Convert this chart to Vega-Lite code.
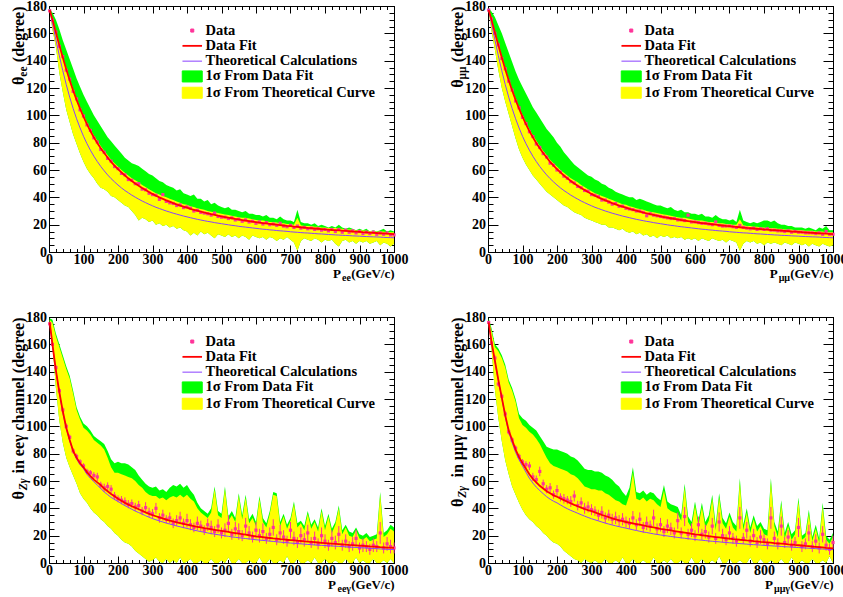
{
"$schema":"https://vega.github.io/schema/vega-lite/v6.json",
"autosize":{"type":"none"},
"padding":{"left":49,"top":6,"right":794,"bottom":591},
"background":"white",
"config":{
 "view":{"stroke":"#000000","strokeWidth":1},
 "axis":{"labelFont":"Liberation Serif","labelFontWeight":"bold","labelColor":"#000000","labelFontSize":14,"titleFont":"Liberation Serif","titleFontWeight":"bold","titleColor":"#000000","tickColor":"#000000","tickWidth":1,"grid":false,"domain":false,"titlePadding":0,"format":"d"},
 "legend":{"labelFont":"Liberation Serif","labelFontWeight":"bold","labelFontSize":14.5,"labelColor":"#000000"}
},
"columns":2,
"spacing":{"row":65,"column":94},
"bounds":"flush",
"resolve":{"scale":{"color":"independent"}},
"datasets":{
"A":[
{"p":2,"f":177,"t":177.7,"g":178.5,"u":178,"l":176.5,"d":176.5},
{"p":10,"f":170.2,"t":167.5,"g":175,"u":171.5,"l":163,"d":169.5},
{"p":20,"f":160.6,"t":155.3,"g":170,"u":162,"l":150,"d":161},
{"p":30,"f":151.2,"t":143.6,"g":163,"u":152.5,"l":131,"d":150.5},
{"p":40,"f":142.3,"t":132.6,"g":155,"u":143.5,"l":117,"d":143},
{"p":50,"f":133.7,"t":122.5,"g":148,"u":135,"l":104,"d":133},
{"p":60,"f":125.7,"t":113.3,"g":141,"u":127,"l":95,"d":126.5},
{"p":70,"f":118.2,"t":105,"g":134,"u":119.5,"l":86,"d":117.5},
{"p":80,"f":111.3,"t":97.5,"g":127,"u":112.5,"l":79,"d":112},
{"p":90,"f":104.9,"t":90.8,"g":121,"u":106,"l":72,"d":104},
{"p":100,"f":99,"t":84.7,"g":115,"u":100.5,"l":66,"d":99.5},
{"p":110,"f":93.5,"t":79.3,"g":110,"u":95,"l":61,"d":93},
{"p":120,"f":88.5,"t":74.5,"g":105,"u":90,"l":57,"d":89},
{"p":130,"f":84,"t":70.1,"g":100,"u":85.5,"l":54,"d":83.5},
{"p":140,"f":79.8,"t":66.2,"g":96,"u":81.5,"l":50,"d":80.5},
{"p":150,"f":75.9,"t":62.6,"g":92,"u":77.5,"l":47,"d":75},
{"p":160,"f":72.4,"t":59.4,"g":88,"u":74,"l":46,"d":73},
{"p":170,"f":69.1,"t":56.4,"g":84,"u":71,"l":44,"d":68.5},
{"p":180,"f":66,"t":53.7,"g":81,"u":67.5,"l":41,"d":66.5},
{"p":190,"f":63.2,"t":51.3,"g":78,"u":65,"l":40,"d":62.5},
{"p":200,"f":60.7,"t":49,"g":75,"u":62.5,"l":38,"d":61},
{"p":210,"f":58.2,"t":46.9,"g":72,"u":60,"l":36,"d":57.5},
{"p":220,"f":56,"t":45,"g":69,"u":58,"l":34,"d":56.5},
{"p":230,"f":53.9,"t":43.3,"g":67,"u":56,"l":33,"d":53},
{"p":240,"f":52,"t":41.6,"g":65,"u":54,"l":30,"d":52.5},
{"p":250,"f":50.2,"t":40.1,"g":64,"u":52.5,"l":27,"d":50},
{"p":260,"f":48.5,"t":38.7,"g":63,"u":51,"l":23,"d":50},
{"p":270,"f":46.9,"t":37.3,"g":61,"u":49,"l":25,"d":46},
{"p":280,"f":45.4,"t":36.1,"g":59,"u":47.5,"l":24,"d":45.5},
{"p":290,"f":43.9,"t":34.9,"g":57,"u":46,"l":22,"d":43},
{"p":300,"f":42.5,"t":33.8,"g":56,"u":44.5,"l":23,"d":42},
{"p":310,"f":41.2,"t":32.7,"g":54,"u":43,"l":20,"d":41.5},
{"p":320,"f":40,"t":31.8,"g":52,"u":42,"l":21,"d":38.5},
{"p":330,"f":38.9,"t":30.9,"g":51,"u":41,"l":19,"d":42},
{"p":340,"f":37.8,"t":30,"g":49,"u":40,"l":20,"d":37},
{"p":350,"f":36.8,"t":29.2,"g":48,"u":39,"l":18,"d":36},
{"p":360,"f":35.8,"t":28.4,"g":47,"u":38,"l":19,"d":35.5},
{"p":370,"f":34.9,"t":27.7,"g":45,"u":37,"l":17,"d":34},
{"p":380,"f":34,"t":27,"g":46,"u":36,"l":18,"d":34.5},
{"p":390,"f":33.2,"t":26.3,"g":43,"u":35,"l":16,"d":32.5},
{"p":400,"f":32.4,"t":25.7,"g":42,"u":34.5,"l":15,"d":33},
{"p":410,"f":31.6,"t":25.1,"g":41,"u":33.5,"l":12,"d":32},
{"p":420,"f":30.9,"t":24.5,"g":42,"u":33,"l":14,"d":30},
{"p":430,"f":30.2,"t":23.9,"g":39,"u":32,"l":12,"d":30.5},
{"p":440,"f":29.6,"t":23.4,"g":39,"u":31.5,"l":15,"d":29},
{"p":450,"f":28.9,"t":22.9,"g":37,"u":31,"l":13,"d":28.5},
{"p":460,"f":28.3,"t":22.4,"g":38,"u":30,"l":14,"d":28},
{"p":470,"f":27.7,"t":22,"g":35,"u":29.5,"l":12,"d":27},
{"p":480,"f":27.2,"t":21.5,"g":36,"u":29,"l":10,"d":28.5},
{"p":490,"f":26.6,"t":21.1,"g":34,"u":28.5,"l":13,"d":26},
{"p":500,"f":26.1,"t":20.7,"g":33,"u":28,"l":12,"d":25.5},
{"p":510,"f":25.6,"t":20.3,"g":32,"u":27.5,"l":11,"d":25.5},
{"p":520,"f":25.1,"t":19.9,"g":33,"u":27,"l":13,"d":24.5},
{"p":530,"f":24.7,"t":19.5,"g":31,"u":26.5,"l":11,"d":25},
{"p":540,"f":24.2,"t":19.2,"g":31,"u":26,"l":12,"d":23.5},
{"p":550,"f":23.8,"t":18.8,"g":30,"u":25.5,"l":10,"d":24},
{"p":560,"f":23.4,"t":18.5,"g":29,"u":25,"l":12,"d":22.5},
{"p":570,"f":23,"t":18.2,"g":30,"u":25,"l":11,"d":23.5},
{"p":580,"f":22.6,"t":17.9,"g":28,"u":24.5,"l":9,"d":22},
{"p":590,"f":22.2,"t":17.6,"g":28,"u":24,"l":12,"d":22.5},
{"p":600,"f":21.9,"t":17.3,"g":27,"u":23.5,"l":11,"d":21},
{"p":610,"f":21.5,"t":17,"g":27,"u":23,"l":10,"d":22},
{"p":620,"f":21.2,"t":16.7,"g":26,"u":23,"l":11,"d":20.5},
{"p":630,"f":20.9,"t":16.5,"g":27,"u":22.5,"l":9,"d":21.5},
{"p":640,"f":20.6,"t":16.2,"g":25,"u":22,"l":11,"d":20},
{"p":650,"f":20.3,"t":16,"g":25,"u":22,"l":10,"d":20.5},
{"p":660,"f":20,"t":15.7,"g":24,"u":21.5,"l":8,"d":19.5},
{"p":670,"f":19.7,"t":15.5,"g":26,"u":21,"l":10,"d":21},
{"p":680,"f":19.4,"t":15.3,"g":24,"u":21,"l":9,"d":19},
{"p":690,"f":19.1,"t":15.1,"g":23,"u":20.5,"l":11,"d":18.5},
{"p":700,"f":18.9,"t":14.8,"g":23,"u":20.5,"l":9,"d":19.5},
{"p":710,"f":18.6,"t":14.6,"g":22,"u":20,"l":7,"d":18},
{"p":720,"f":18.4,"t":14.4,"g":31,"u":25,"l":1,"d":19},
{"p":730,"f":18.1,"t":14.2,"g":22,"u":19.5,"l":8,"d":17.5},
{"p":740,"f":17.9,"t":14,"g":21,"u":19,"l":10,"d":18},
{"p":750,"f":17.6,"t":13.9,"g":21,"u":19,"l":9,"d":17},
{"p":760,"f":17.4,"t":13.7,"g":20,"u":19,"l":8,"d":17.5},
{"p":770,"f":17.2,"t":13.5,"g":21,"u":18.5,"l":10,"d":16.5},
{"p":780,"f":17,"t":13.3,"g":19,"u":18.5,"l":9,"d":17},
{"p":790,"f":16.8,"t":13.2,"g":20,"u":18,"l":7,"d":16},
{"p":800,"f":16.5,"t":13,"g":19,"u":18,"l":9,"d":16.5},
{"p":810,"f":16.3,"t":12.8,"g":18,"u":17.5,"l":8,"d":15.5},
{"p":820,"f":16.1,"t":12.7,"g":19,"u":17.5,"l":9,"d":16.5},
{"p":830,"f":16,"t":12.5,"g":18,"u":17.5,"l":6,"d":15},
{"p":840,"f":15.8,"t":12.4,"g":20,"u":17,"l":4,"d":16.5},
{"p":850,"f":15.6,"t":12.2,"g":18,"u":17,"l":8,"d":14.5},
{"p":860,"f":15.4,"t":12.1,"g":17,"u":16.5,"l":9,"d":16},
{"p":870,"f":15.2,"t":12,"g":18,"u":16.5,"l":7,"d":14.5},
{"p":880,"f":15,"t":11.8,"g":17,"u":16.5,"l":8,"d":15.5},
{"p":890,"f":14.9,"t":11.7,"g":16,"u":15.8,"l":6,"d":14},
{"p":900,"f":14.7,"t":11.6,"g":17,"u":16,"l":8,"d":15},
{"p":910,"f":14.5,"t":11.4,"g":16,"u":15.8,"l":7,"d":13.5},
{"p":920,"f":14.4,"t":11.3,"g":17,"u":15.5,"l":8,"d":14.5},
{"p":930,"f":14.2,"t":11.2,"g":15,"u":15,"l":6,"d":13.5},
{"p":940,"f":14,"t":11.1,"g":16,"u":15.5,"l":7,"d":14.5},
{"p":950,"f":13.9,"t":11,"g":15,"u":14.8,"l":8,"d":13},
{"p":960,"f":13.7,"t":10.9,"g":16,"u":15,"l":5,"d":14},
{"p":970,"f":13.6,"t":10.7,"g":17,"u":15,"l":7,"d":13},
{"p":980,"f":13.4,"t":10.6,"g":15,"u":14.5,"l":6,"d":14},
{"p":990,"f":13.3,"t":10.5,"g":16,"u":14.5,"l":4,"d":12.5},
{"p":1000,"f":13.1,"t":10.4,"g":15,"u":14.5,"l":6,"d":12.5}
],
"B":[
{"p":2,"f":177,"t":177.7,"g":178.5,"u":178,"l":176.5,"d":177},
{"p":10,"f":170.2,"t":167.5,"g":176,"u":171.5,"l":162,"d":170.5},
{"p":20,"f":160.6,"t":155.3,"g":172,"u":162,"l":148,"d":160},
{"p":30,"f":151.2,"t":143.6,"g":166,"u":152.5,"l":133,"d":151.5},
{"p":40,"f":142.3,"t":132.6,"g":160,"u":143.5,"l":120,"d":141.5},
{"p":50,"f":133.7,"t":122.5,"g":153,"u":135,"l":110,"d":134},
{"p":60,"f":125.7,"t":113.3,"g":146,"u":127,"l":101,"d":125},
{"p":70,"f":118.2,"t":105,"g":139,"u":119.5,"l":92,"d":118.5},
{"p":80,"f":111.3,"t":97.5,"g":132,"u":112.5,"l":83,"d":110.5},
{"p":90,"f":104.9,"t":90.8,"g":126,"u":106,"l":75,"d":105.5},
{"p":100,"f":99,"t":84.7,"g":121,"u":100.5,"l":69,"d":98.5},
{"p":110,"f":93.5,"t":79.3,"g":116,"u":95,"l":64,"d":94},
{"p":120,"f":88.5,"t":74.5,"g":111,"u":90,"l":60,"d":88},
{"p":130,"f":84,"t":70.1,"g":106,"u":85.5,"l":56,"d":84.5},
{"p":140,"f":79.8,"t":66.2,"g":102,"u":81.5,"l":53,"d":79},
{"p":150,"f":75.9,"t":62.6,"g":98,"u":77.5,"l":50,"d":76.5},
{"p":160,"f":72.4,"t":59.4,"g":94,"u":74,"l":47,"d":72},
{"p":170,"f":69.1,"t":56.4,"g":90,"u":71,"l":44,"d":69.5},
{"p":180,"f":66,"t":53.7,"g":87,"u":67.5,"l":42,"d":65},
{"p":190,"f":63.2,"t":51.3,"g":84,"u":65,"l":40,"d":63.5},
{"p":200,"f":60.7,"t":49,"g":80,"u":62.5,"l":38,"d":60},
{"p":210,"f":58.2,"t":46.9,"g":77,"u":60,"l":36,"d":58.5},
{"p":220,"f":56,"t":45,"g":73,"u":58,"l":34,"d":55.5},
{"p":230,"f":53.9,"t":43.3,"g":70,"u":56,"l":33,"d":54},
{"p":240,"f":52,"t":41.6,"g":67,"u":54,"l":31,"d":51.5},
{"p":250,"f":50.2,"t":40.1,"g":64,"u":52.5,"l":29,"d":50.5},
{"p":260,"f":48.5,"t":38.7,"g":62,"u":51,"l":28,"d":48},
{"p":270,"f":46.9,"t":37.3,"g":60,"u":49,"l":27,"d":47},
{"p":280,"f":45.4,"t":36.1,"g":58,"u":47.5,"l":25,"d":45},
{"p":290,"f":43.9,"t":34.9,"g":56,"u":46,"l":24,"d":44.5},
{"p":300,"f":42.5,"t":33.8,"g":55,"u":44.5,"l":23,"d":42},
{"p":310,"f":41.2,"t":32.7,"g":53,"u":43,"l":22,"d":41.5},
{"p":320,"f":40,"t":31.8,"g":52,"u":42,"l":21,"d":40.5},
{"p":330,"f":38.9,"t":30.9,"g":50,"u":41,"l":20,"d":38},
{"p":340,"f":37.8,"t":30,"g":49,"u":40,"l":20,"d":38},
{"p":350,"f":36.8,"t":29.2,"g":47,"u":39,"l":18,"d":36.5},
{"p":360,"f":35.8,"t":28.4,"g":46,"u":38,"l":18,"d":35},
{"p":370,"f":34.9,"t":27.7,"g":44,"u":37,"l":17,"d":35.5},
{"p":380,"f":34,"t":27,"g":43,"u":36,"l":16,"d":33.5},
{"p":390,"f":33.2,"t":26.3,"g":42,"u":35,"l":17,"d":33.5},
{"p":400,"f":32.4,"t":25.7,"g":41,"u":34.5,"l":15,"d":32},
{"p":410,"f":31.6,"t":25.1,"g":40,"u":33.5,"l":14,"d":31.5},
{"p":420,"f":30.9,"t":24.5,"g":40,"u":33,"l":15,"d":31},
{"p":430,"f":30.2,"t":23.9,"g":38,"u":32,"l":13,"d":30},
{"p":440,"f":29.6,"t":23.4,"g":39,"u":31.5,"l":14,"d":30},
{"p":450,"f":28.9,"t":22.9,"g":38,"u":31,"l":12,"d":29},
{"p":460,"f":28.3,"t":22.4,"g":37,"u":30,"l":13,"d":26.5},
{"p":470,"f":27.7,"t":22,"g":36,"u":29.5,"l":11,"d":28},
{"p":480,"f":27.2,"t":21.5,"g":35,"u":29,"l":12,"d":27},
{"p":490,"f":26.6,"t":21.1,"g":34,"u":28.5,"l":10,"d":26.5},
{"p":500,"f":26.1,"t":20.7,"g":34,"u":28,"l":12,"d":26},
{"p":510,"f":25.6,"t":20.3,"g":33,"u":27.5,"l":11,"d":25.5},
{"p":520,"f":25.1,"t":19.9,"g":32,"u":27,"l":12,"d":25},
{"p":530,"f":24.7,"t":19.5,"g":33,"u":26.5,"l":10,"d":24.5},
{"p":540,"f":24.2,"t":19.2,"g":31,"u":26,"l":11,"d":24.5},
{"p":550,"f":23.8,"t":18.8,"g":30,"u":25.5,"l":10,"d":23.5},
{"p":560,"f":23.4,"t":18.5,"g":31,"u":25,"l":11,"d":23.5},
{"p":570,"f":23,"t":18.2,"g":29,"u":25,"l":9,"d":23},
{"p":580,"f":22.6,"t":17.9,"g":29,"u":24.5,"l":10,"d":27},
{"p":590,"f":22.2,"t":17.6,"g":28,"u":24,"l":9,"d":22},
{"p":600,"f":21.9,"t":17.3,"g":28,"u":23.5,"l":10,"d":22},
{"p":610,"f":21.5,"t":17,"g":27,"u":23,"l":8,"d":21.5},
{"p":620,"f":21.2,"t":16.7,"g":28,"u":23,"l":10,"d":21},
{"p":630,"f":20.9,"t":16.5,"g":26,"u":22.5,"l":9,"d":21},
{"p":640,"f":20.6,"t":16.2,"g":26,"u":22,"l":8,"d":20.5},
{"p":650,"f":20.3,"t":16,"g":25,"u":22,"l":10,"d":20},
{"p":660,"f":20,"t":15.7,"g":27,"u":21.5,"l":9,"d":22},
{"p":670,"f":19.7,"t":15.5,"g":25,"u":21,"l":8,"d":19.5},
{"p":680,"f":19.4,"t":15.3,"g":24,"u":21,"l":9,"d":19},
{"p":690,"f":19.1,"t":15.1,"g":24,"u":20.5,"l":7,"d":19},
{"p":700,"f":18.9,"t":14.8,"g":23,"u":20.5,"l":9,"d":19},
{"p":710,"f":18.6,"t":14.6,"g":24,"u":20,"l":8,"d":18.5},
{"p":720,"f":18.4,"t":14.4,"g":22,"u":20,"l":7,"d":18},
{"p":730,"f":18.1,"t":14.2,"g":31,"u":24,"l":1,"d":19.5},
{"p":740,"f":17.9,"t":14,"g":23,"u":19.5,"l":6,"d":18},
{"p":750,"f":17.6,"t":13.9,"g":22,"u":19,"l":8,"d":17.5},
{"p":760,"f":17.4,"t":13.7,"g":21,"u":19,"l":7,"d":17},
{"p":770,"f":17.2,"t":13.5,"g":22,"u":18.5,"l":8,"d":17.5},
{"p":780,"f":17,"t":13.3,"g":21,"u":18.5,"l":6,"d":16.5},
{"p":790,"f":16.8,"t":13.2,"g":22,"u":18,"l":7,"d":17},
{"p":800,"f":16.5,"t":13,"g":23,"u":18,"l":5,"d":16.5},
{"p":810,"f":16.3,"t":12.8,"g":23,"u":17.5,"l":7,"d":17},
{"p":820,"f":16.1,"t":12.7,"g":22,"u":17.5,"l":6,"d":16},
{"p":830,"f":16,"t":12.5,"g":23,"u":17.5,"l":7,"d":16},
{"p":840,"f":15.8,"t":12.4,"g":21,"u":17,"l":6,"d":15.5},
{"p":850,"f":15.6,"t":12.2,"g":20,"u":17,"l":5,"d":15.5},
{"p":860,"f":15.4,"t":12.1,"g":20,"u":16.5,"l":7,"d":15},
{"p":870,"f":15.2,"t":12,"g":19,"u":16.5,"l":6,"d":15.5},
{"p":880,"f":15,"t":11.8,"g":19,"u":16.5,"l":5,"d":14.5},
{"p":890,"f":14.9,"t":11.7,"g":18,"u":16,"l":7,"d":15},
{"p":900,"f":14.7,"t":11.6,"g":18,"u":16,"l":6,"d":14.5},
{"p":910,"f":14.5,"t":11.4,"g":18,"u":16,"l":5,"d":14.5},
{"p":920,"f":14.4,"t":11.3,"g":17,"u":15.5,"l":6,"d":14},
{"p":930,"f":14.2,"t":11.2,"g":18,"u":15.5,"l":4,"d":14},
{"p":940,"f":14,"t":11.1,"g":17,"u":15.5,"l":6,"d":14},
{"p":950,"f":13.9,"t":11,"g":16,"u":15,"l":5,"d":13.5},
{"p":960,"f":13.7,"t":10.9,"g":18,"u":15,"l":4,"d":14},
{"p":970,"f":13.6,"t":10.7,"g":17,"u":15,"l":6,"d":13},
{"p":980,"f":13.4,"t":10.6,"g":19,"u":14.5,"l":5,"d":15},
{"p":990,"f":13.3,"t":10.5,"g":16,"u":14.5,"l":4,"d":13},
{"p":1000,"f":13.1,"t":10.4,"g":16,"u":14.5,"l":5,"d":13}
],
"C":[
{"p":2,"f":176,"t":176,"g":179,"u":178,"l":176,"d":175,"e":1},
{"p":10,"f":160,"t":159.5,"g":178,"u":176,"l":160,"d":160,"e":1.5},
{"p":20,"f":141,"t":140.5,"g":168,"u":166,"l":128,"d":143,"e":2},
{"p":30,"f":125,"t":124.5,"g":160,"u":158,"l":104,"d":126,"e":2},
{"p":40,"f":111,"t":110,"g":152,"u":150,"l":88,"d":112,"e":2},
{"p":50,"f":99,"t":98.5,"g":144,"u":142,"l":77,"d":100,"e":2},
{"p":60,"f":90,"t":89.5,"g":137,"u":135,"l":70,"d":92,"e":2},
{"p":70,"f":82,"t":81.5,"g":126,"u":124,"l":64,"d":82,"e":2},
{"p":80,"f":77,"t":76,"g":114,"u":112,"l":58,"d":78,"e":2},
{"p":90,"f":73,"t":72,"g":107,"u":105,"l":51,"d":74,"e":2},
{"p":100,"f":70,"t":69,"g":102,"u":99,"l":47,"d":71,"e":2},
{"p":110,"f":66.5,"t":65,"g":100,"u":97,"l":44,"d":67,"e":2},
{"p":120,"f":63.5,"t":62,"g":97,"u":94,"l":40,"d":66,"e":2},
{"p":130,"f":61,"t":59.5,"g":93,"u":90,"l":37,"d":64,"e":2.5},
{"p":140,"f":59,"t":57,"g":91,"u":88,"l":35,"d":63,"e":3},
{"p":150,"f":57,"t":54.5,"g":89,"u":86,"l":32,"d":57,"e":2.5},
{"p":160,"f":54.5,"t":52,"g":87,"u":83,"l":30,"d":55,"e":3},
{"p":170,"f":52.5,"t":50,"g":82,"u":77,"l":27,"d":56,"e":3},
{"p":180,"f":50.5,"t":48,"g":76,"u":70,"l":25,"d":54,"e":3},
{"p":190,"f":48.8,"t":46.5,"g":73,"u":66,"l":22,"d":49,"e":3},
{"p":200,"f":47,"t":45,"g":74,"u":66,"l":20,"d":47,"e":2.5},
{"p":210,"f":45.5,"t":43.5,"g":73,"u":65,"l":17,"d":46,"e":3},
{"p":220,"f":44,"t":42,"g":73,"u":64,"l":15,"d":45,"e":3},
{"p":230,"f":42.7,"t":40.7,"g":72,"u":63,"l":14,"d":43,"e":3},
{"p":240,"f":41.5,"t":39.3,"g":70,"u":62,"l":12,"d":43.5,"e":3},
{"p":250,"f":40.5,"t":38,"g":68,"u":60,"l":9,"d":41,"e":3},
{"p":260,"f":39.3,"t":36.9,"g":64,"u":57,"l":7,"d":42,"e":3.5},
{"p":270,"f":38.2,"t":35.8,"g":61,"u":55,"l":5,"d":38,"e":3},
{"p":280,"f":37,"t":34.6,"g":58,"u":52,"l":3,"d":40.5,"e":4},
{"p":290,"f":36,"t":33.5,"g":56,"u":50,"l":1,"d":37,"e":3.5},
{"p":300,"f":35,"t":32.5,"g":55,"u":49,"l":2,"d":36,"e":3.5},
{"p":310,"f":34.2,"t":31.6,"g":56,"u":49,"l":4,"d":40,"e":4},
{"p":320,"f":33.4,"t":30.8,"g":53,"u":47,"l":1,"d":33,"e":3.5},
{"p":330,"f":32.6,"t":30,"g":54,"u":48,"l":0,"d":35,"e":4},
{"p":340,"f":31.8,"t":29.2,"g":52,"u":46,"l":3,"d":32,"e":3},
{"p":350,"f":31,"t":28.5,"g":55,"u":48,"l":0,"d":33,"e":4},
{"p":360,"f":30.4,"t":27.8,"g":57,"u":49,"l":2,"d":29,"e":3.5},
{"p":370,"f":29.8,"t":27.1,"g":56,"u":48,"l":0,"d":31,"e":4},
{"p":380,"f":29.2,"t":26.5,"g":58,"u":50,"l":4,"d":33,"e":4.5},
{"p":390,"f":28.6,"t":25.9,"g":55,"u":48,"l":0,"d":29,"e":3.5},
{"p":400,"f":28,"t":25.3,"g":57,"u":50,"l":1,"d":31,"e":5},
{"p":410,"f":27.5,"t":24.7,"g":53,"u":47,"l":3,"d":28,"e":4},
{"p":420,"f":27,"t":24.1,"g":50,"u":45,"l":0,"d":26,"e":3.5},
{"p":430,"f":26.5,"t":23.5,"g":44,"u":40,"l":0,"d":29,"e":5},
{"p":440,"f":26,"t":23,"g":40,"u":37,"l":2,"d":27,"e":4},
{"p":450,"f":25.5,"t":22.5,"g":38,"u":35,"l":0,"d":24,"e":3.5},
{"p":460,"f":25.1,"t":22,"g":36,"u":33,"l":0,"d":28,"e":4.5},
{"p":470,"f":24.7,"t":21.5,"g":40,"u":37,"l":3,"d":26,"e":5},
{"p":480,"f":24.3,"t":21.1,"g":56,"u":54,"l":0,"d":23,"e":4},
{"p":490,"f":23.9,"t":20.7,"g":38,"u":35,"l":0,"d":27,"e":5},
{"p":500,"f":23.5,"t":20.3,"g":36,"u":33,"l":2,"d":22,"e":4},
{"p":510,"f":23.1,"t":19.9,"g":56,"u":54,"l":0,"d":24,"e":5},
{"p":520,"f":22.7,"t":19.5,"g":34,"u":31,"l":4,"d":29,"e":6},
{"p":530,"f":22.3,"t":19.1,"g":38,"u":35,"l":0,"d":21,"e":4},
{"p":540,"f":21.9,"t":18.8,"g":33,"u":30,"l":0,"d":25,"e":5},
{"p":550,"f":21.5,"t":18.5,"g":51,"u":49,"l":3,"d":23,"e":6},
{"p":560,"f":21.1,"t":18.2,"g":35,"u":32,"l":0,"d":20,"e":4},
{"p":570,"f":20.7,"t":17.9,"g":50,"u":48,"l":0,"d":27,"e":6},
{"p":580,"f":20.3,"t":17.6,"g":32,"u":29,"l":2,"d":22,"e":5},
{"p":590,"f":19.9,"t":17.3,"g":36,"u":33,"l":0,"d":19,"e":4},
{"p":600,"f":19.5,"t":17,"g":30,"u":27,"l":0,"d":24,"e":6},
{"p":610,"f":19.2,"t":16.8,"g":49,"u":47,"l":4,"d":20,"e":5},
{"p":620,"f":18.9,"t":16.5,"g":33,"u":30,"l":0,"d":23,"e":6},
{"p":630,"f":18.6,"t":16.3,"g":29,"u":26,"l":0,"d":18,"e":4},
{"p":640,"f":18.3,"t":16,"g":38,"u":36,"l":3,"d":21,"e":5},
{"p":650,"f":18,"t":15.8,"g":52,"u":50,"l":0,"d":26,"e":6},
{"p":660,"f":17.8,"t":15.5,"g":51,"u":49,"l":0,"d":17,"e":4},
{"p":670,"f":17.5,"t":15.3,"g":30,"u":27,"l":2,"d":22,"e":6},
{"p":680,"f":17.3,"t":15,"g":36,"u":34,"l":0,"d":19,"e":5},
{"p":690,"f":17,"t":14.8,"g":28,"u":25,"l":5,"d":16,"e":4},
{"p":700,"f":16.8,"t":14.6,"g":33,"u":31,"l":0,"d":24,"e":6},
{"p":710,"f":16.6,"t":14.4,"g":45,"u":43,"l":0,"d":18,"e":5},
{"p":720,"f":16.3,"t":14.2,"g":29,"u":26,"l":3,"d":15,"e":4},
{"p":730,"f":16.1,"t":14,"g":31,"u":29,"l":0,"d":20,"e":6},
{"p":740,"f":15.8,"t":13.8,"g":27,"u":24,"l":0,"d":17,"e":5},
{"p":750,"f":15.6,"t":13.6,"g":38,"u":36,"l":2,"d":22,"e":6},
{"p":760,"f":15.4,"t":13.4,"g":28,"u":25,"l":0,"d":15,"e":4},
{"p":770,"f":15.2,"t":13.2,"g":32,"u":30,"l":4,"d":18,"e":5},
{"p":780,"f":15,"t":13,"g":26,"u":23,"l":0,"d":14,"e":4},
{"p":790,"f":14.8,"t":12.9,"g":40,"u":38,"l":0,"d":20,"e":6},
{"p":800,"f":14.6,"t":12.8,"g":27,"u":24,"l":3,"d":16,"e":5},
{"p":810,"f":14.4,"t":12.6,"g":36,"u":34,"l":0,"d":13,"e":4},
{"p":820,"f":14.2,"t":12.5,"g":25,"u":22,"l":0,"d":18,"e":6},
{"p":830,"f":14,"t":12.3,"g":30,"u":28,"l":2,"d":15,"e":5},
{"p":840,"f":13.8,"t":12.2,"g":42,"u":40,"l":0,"d":21,"e":6},
{"p":850,"f":13.6,"t":12,"g":24,"u":21,"l":0,"d":13,"e":4},
{"p":860,"f":13.4,"t":11.8,"g":28,"u":26,"l":3,"d":16,"e":5},
{"p":870,"f":13.2,"t":11.7,"g":23,"u":20,"l":0,"d":12,"e":4},
{"p":880,"f":13.1,"t":11.5,"g":22,"u":19,"l":0,"d":14,"e":5},
{"p":890,"f":12.9,"t":11.4,"g":26,"u":24,"l":4,"d":18,"e":6},
{"p":900,"f":12.7,"t":11.2,"g":21,"u":18,"l":0,"d":11,"e":4},
{"p":910,"f":12.5,"t":11.1,"g":20,"u":17,"l":2,"d":13,"e":5},
{"p":920,"f":12.3,"t":10.9,"g":22,"u":19,"l":0,"d":12,"e":4},
{"p":930,"f":12.1,"t":10.8,"g":19,"u":16,"l":0,"d":10,"e":4},
{"p":940,"f":12,"t":10.6,"g":20,"u":17,"l":3,"d":13,"e":5},
{"p":950,"f":11.8,"t":10.5,"g":21,"u":18,"l":0,"d":12,"e":4},
{"p":960,"f":11.6,"t":10.3,"g":52,"u":50,"l":0,"d":22,"e":8},
{"p":970,"f":11.5,"t":10.2,"g":22,"u":19,"l":2,"d":11,"e":4},
{"p":980,"f":11.3,"t":10,"g":24,"u":21,"l":0,"d":14,"e":5},
{"p":990,"f":11.2,"t":9.9,"g":28,"u":25,"l":3,"d":12,"e":5},
{"p":1000,"f":11,"t":9.8,"g":26,"u":23,"l":0,"d":11,"e":4}
],
"D":[
{"p":2,"f":176,"t":176,"g":179,"u":178,"l":176,"d":176,"e":1},
{"p":10,"f":162,"t":162,"g":172,"u":170,"l":157,"d":161,"e":1.5},
{"p":20,"f":148,"t":147.5,"g":160,"u":158,"l":127,"d":150,"e":2},
{"p":30,"f":134,"t":133.5,"g":157,"u":155,"l":106,"d":131,"e":2},
{"p":40,"f":121,"t":120.5,"g":152,"u":150,"l":89,"d":122,"e":2},
{"p":50,"f":108,"t":107,"g":145,"u":143,"l":75,"d":109,"e":2},
{"p":60,"f":97,"t":96,"g":134,"u":132,"l":65,"d":96,"e":2},
{"p":70,"f":90,"t":88,"g":128,"u":126,"l":56,"d":90,"e":2},
{"p":80,"f":83,"t":81,"g":120,"u":118,"l":50,"d":84,"e":2},
{"p":90,"f":77.5,"t":75.5,"g":109,"u":106,"l":44,"d":78,"e":2},
{"p":100,"f":73,"t":71,"g":106,"u":101,"l":39,"d":74,"e":2},
{"p":110,"f":69,"t":66.5,"g":104,"u":99,"l":35,"d":72,"e":2.5},
{"p":120,"f":65,"t":62,"g":101,"u":96,"l":32,"d":71,"e":3},
{"p":130,"f":61.5,"t":58.5,"g":99,"u":94,"l":30,"d":63,"e":3},
{"p":140,"f":59,"t":55.5,"g":97,"u":91,"l":27,"d":61,"e":3},
{"p":150,"f":56.5,"t":53,"g":93,"u":87,"l":25,"d":67,"e":3.5},
{"p":160,"f":54.5,"t":50.7,"g":89,"u":82,"l":22,"d":58,"e":3},
{"p":170,"f":52.5,"t":48.5,"g":85,"u":77,"l":20,"d":54,"e":3},
{"p":180,"f":51,"t":46.7,"g":84,"u":73,"l":17,"d":55,"e":3.5},
{"p":190,"f":49.5,"t":45.2,"g":83,"u":71,"l":15,"d":50,"e":3},
{"p":200,"f":48.5,"t":44,"g":83,"u":70,"l":14,"d":53,"e":4},
{"p":210,"f":47.2,"t":42.5,"g":82,"u":69,"l":12,"d":48,"e":3},
{"p":220,"f":46,"t":41,"g":81,"u":68,"l":9,"d":47,"e":3.5},
{"p":230,"f":44.8,"t":39.7,"g":80,"u":67,"l":7,"d":46,"e":3},
{"p":240,"f":43.6,"t":38.5,"g":78,"u":65,"l":5,"d":45,"e":4},
{"p":250,"f":42.5,"t":37.5,"g":77,"u":64,"l":3,"d":49,"e":4},
{"p":260,"f":41.5,"t":36.4,"g":75,"u":62,"l":2,"d":42,"e":3.5},
{"p":270,"f":40.5,"t":35.3,"g":72,"u":59,"l":0,"d":44,"e":4},
{"p":280,"f":39.5,"t":34.3,"g":69,"u":56,"l":3,"d":40,"e":4},
{"p":290,"f":38.7,"t":33.3,"g":68,"u":55,"l":1,"d":41,"e":4},
{"p":300,"f":38,"t":32.4,"g":68,"u":54,"l":0,"d":39,"e":4},
{"p":310,"f":37,"t":31.6,"g":67,"u":54,"l":2,"d":38,"e":3.5},
{"p":320,"f":36.1,"t":30.8,"g":67,"u":53,"l":0,"d":35,"e":4},
{"p":330,"f":35.2,"t":30,"g":66,"u":53,"l":0,"d":37,"e":4.5},
{"p":340,"f":34.4,"t":29.2,"g":64,"u":51,"l":3,"d":33,"e":4},
{"p":350,"f":33.5,"t":28.5,"g":63,"u":50,"l":0,"d":35,"e":4},
{"p":360,"f":32.7,"t":27.8,"g":61,"u":48,"l":0,"d":32,"e":4},
{"p":370,"f":31.9,"t":27.2,"g":58,"u":46,"l":2,"d":33,"e":4.5},
{"p":380,"f":31.2,"t":26.6,"g":56,"u":45,"l":0,"d":31,"e":4},
{"p":390,"f":30.6,"t":26,"g":52,"u":43,"l":4,"d":32,"e":4.5},
{"p":400,"f":30,"t":25.5,"g":49,"u":42,"l":0,"d":30,"e":4},
{"p":410,"f":29.5,"t":24.9,"g":55,"u":50,"l":0,"d":29,"e":4},
{"p":420,"f":29,"t":24.3,"g":70,"u":66,"l":3,"d":33,"e":5},
{"p":430,"f":28.5,"t":23.8,"g":52,"u":47,"l":0,"d":28,"e":4},
{"p":440,"f":28,"t":23.2,"g":51,"u":46,"l":0,"d":32,"e":5},
{"p":450,"f":27.5,"t":22.7,"g":53,"u":48,"l":2,"d":26,"e":4},
{"p":460,"f":27,"t":22.3,"g":50,"u":45,"l":0,"d":29,"e":5},
{"p":470,"f":26.5,"t":21.8,"g":52,"u":47,"l":0,"d":27,"e":4},
{"p":480,"f":26,"t":21.3,"g":51,"u":46,"l":4,"d":33,"e":6},
{"p":490,"f":25.5,"t":20.9,"g":48,"u":43,"l":0,"d":25,"e":4},
{"p":500,"f":25,"t":20.5,"g":46,"u":41,"l":0,"d":28,"e":5},
{"p":510,"f":24.6,"t":20.1,"g":57,"u":53,"l":2,"d":23,"e":4},
{"p":520,"f":24.2,"t":19.8,"g":45,"u":40,"l":0,"d":27,"e":5},
{"p":530,"f":23.8,"t":19.4,"g":43,"u":38,"l":3,"d":25,"e":4.5},
{"p":540,"f":23.4,"t":19.1,"g":42,"u":37,"l":0,"d":22,"e":4},
{"p":550,"f":23,"t":18.7,"g":41,"u":36,"l":0,"d":31,"e":6},
{"p":560,"f":22.6,"t":18.4,"g":35,"u":31,"l":2,"d":22,"e":4},
{"p":570,"f":22.2,"t":18.1,"g":58,"u":55,"l":0,"d":34,"e":7},
{"p":580,"f":21.8,"t":17.8,"g":34,"u":30,"l":0,"d":21,"e":4},
{"p":590,"f":21.4,"t":17.5,"g":30,"u":26,"l":4,"d":24,"e":5},
{"p":600,"f":21,"t":17.2,"g":45,"u":42,"l":0,"d":20,"e":4},
{"p":610,"f":20.7,"t":16.9,"g":31,"u":27,"l":0,"d":28,"e":6},
{"p":620,"f":20.3,"t":16.7,"g":44,"u":41,"l":3,"d":21,"e":4},
{"p":630,"f":20,"t":16.4,"g":30,"u":26,"l":0,"d":23,"e":5},
{"p":640,"f":19.6,"t":16.1,"g":35,"u":31,"l":0,"d":19,"e":4},
{"p":650,"f":19.3,"t":15.9,"g":50,"u":47,"l":2,"d":27,"e":6},
{"p":660,"f":19,"t":15.7,"g":28,"u":24,"l":0,"d":18,"e":4},
{"p":670,"f":18.7,"t":15.5,"g":51,"u":48,"l":5,"d":30,"e":7},
{"p":680,"f":18.4,"t":15.2,"g":33,"u":29,"l":0,"d":20,"e":5},
{"p":690,"f":18.1,"t":15,"g":29,"u":25,"l":0,"d":17,"e":4},
{"p":700,"f":17.8,"t":14.8,"g":37,"u":34,"l":3,"d":22,"e":5},
{"p":710,"f":17.5,"t":14.6,"g":30,"u":26,"l":0,"d":18,"e":4},
{"p":720,"f":17.3,"t":14.4,"g":27,"u":23,"l":0,"d":16,"e":4},
{"p":730,"f":17,"t":14.2,"g":62,"u":59,"l":2,"d":33,"e":8},
{"p":740,"f":16.8,"t":14,"g":28,"u":24,"l":0,"d":18,"e":4},
{"p":750,"f":16.5,"t":13.8,"g":40,"u":37,"l":0,"d":24,"e":6},
{"p":760,"f":16.3,"t":13.6,"g":26,"u":22,"l":4,"d":16,"e":4},
{"p":770,"f":16,"t":13.4,"g":35,"u":32,"l":0,"d":20,"e":5},
{"p":780,"f":15.8,"t":13.3,"g":27,"u":23,"l":0,"d":15,"e":4},
{"p":790,"f":15.5,"t":13.1,"g":30,"u":27,"l":3,"d":19,"e":5},
{"p":800,"f":15.3,"t":12.9,"g":25,"u":21,"l":0,"d":17,"e":4},
{"p":810,"f":15.1,"t":12.7,"g":24,"u":20,"l":0,"d":14,"e":4},
{"p":820,"f":14.9,"t":12.6,"g":62,"u":59,"l":2,"d":33,"e":8},
{"p":830,"f":14.6,"t":12.4,"g":30,"u":27,"l":0,"d":18,"e":5},
{"p":840,"f":14.4,"t":12.3,"g":23,"u":19,"l":0,"d":14,"e":4},
{"p":850,"f":14.2,"t":12.1,"g":46,"u":43,"l":3,"d":27,"e":7},
{"p":860,"f":14,"t":11.9,"g":22,"u":18,"l":0,"d":15,"e":4},
{"p":870,"f":13.7,"t":11.8,"g":30,"u":27,"l":0,"d":19,"e":5},
{"p":880,"f":13.5,"t":11.6,"g":21,"u":17,"l":4,"d":13,"e":4},
{"p":890,"f":13.2,"t":11.5,"g":24,"u":21,"l":0,"d":15,"e":4},
{"p":900,"f":13,"t":11.3,"g":48,"u":45,"l":0,"d":26,"e":7},
{"p":910,"f":12.8,"t":11.1,"g":20,"u":17,"l":2,"d":12,"e":4},
{"p":920,"f":12.5,"t":11,"g":22,"u":19,"l":0,"d":14,"e":4},
{"p":930,"f":12.3,"t":10.8,"g":39,"u":36,"l":0,"d":22,"e":6},
{"p":940,"f":12,"t":10.7,"g":19,"u":16,"l":3,"d":12,"e":4},
{"p":950,"f":11.8,"t":10.5,"g":28,"u":25,"l":0,"d":16,"e":5},
{"p":960,"f":11.6,"t":10.4,"g":18,"u":15,"l":0,"d":11,"e":4},
{"p":970,"f":11.4,"t":10.2,"g":44,"u":41,"l":2,"d":21,"e":6},
{"p":980,"f":11.1,"t":10.1,"g":20,"u":17,"l":0,"d":13,"e":4},
{"p":990,"f":10.9,"t":9.9,"g":17,"u":14,"l":5,"d":10,"e":4},
{"p":1000,"f":10.7,"t":9.8,"g":22,"u":19,"l":0,"d":15,"e":5}
]
},
"concat":[
{
"width":345,"height":246,"data":{"name":"A"},
"resolve":{"axis":{"x":"independent","y":"independent"}},
"layer":[
{"mark":{"type":"area","opacity":1},
 "encoding":{
  "x":{"field":"p","type":"quantitative","scale":{"domain":[0,1000],"nice":false,"zero":false},"axis":{"orient":"bottom","format":"d","values":[0,100,200,300,400,500,600,700,800,900,1000],"ticks":false,"labelFlush":false,"labelOverlap":false,"labelPadding":0,"title":"(GeV/c)","titleX":345,"titleY":25,"titleAlign":"right","titleBaseline":"alphabetic","titleFontSize":13}},
  "y":{"field":"g","type":"quantitative","scale":{"domain":[0,180],"nice":false,"zero":false},"axis":{"orient":"left","format":"d","values":[0,20,40,60,80,100,120,140,160,180],"ticks":false,"labelFlush":false,"labelOverlap":false,"labelPadding":2.5,"title":"(degree)","titleX":-25.5,"titleY":0,"titleAngle":270,"titleAlign":"right","titleBaseline":"alphabetic","titleFontSize":16}},
  "y2":{"field":"l"},
  "color":{"datum":"1σ From Data Fit","scale":{"domain":["Data","Data Fit","Theoretical Calculations","1σ From Data Fit","1σ From Theoretical Curve"],"range":["#ff3399","#ff0000","#8a40ff","#00ff00","#ffff00"]},
   "legend":{"orient":"none","legendX":136,"legendY":17.3,"title":null,"padding":0,"rowPadding":0.3,"symbolSize":190,"labelOffset":6,"labelLimit":400,
    "encoding":{"symbols":{
     "shape":{"value":{"expr":"datum.value === 'Data' ? 'M-0.22,-0.22H0.22V0.22H-0.22Z' : ((datum.value === 'Data Fit' || datum.value === 'Theoretical Calculations') ? 'M-1.42,0H1.42' : 'M-1.45,-0.8H1.45V0.8H-1.45Z')"}},
     "size":{"value":190},
     "fill":{"value":{"expr":"datum.value === '1σ From Data Fit' ? '#00ff00' : (datum.value === '1σ From Theoretical Curve' ? '#ffff00' : (datum.value === 'Data' ? '#ff3399' : 'transparent'))"}},
     "stroke":{"value":{"expr":"datum.value === 'Data Fit' ? '#ff0000' : (datum.value === 'Theoretical Calculations' ? '#8a40ff' : (datum.value === 'Data' ? '#ff3399' : '#000000'))"}},
     "strokeWidth":{"value":{"expr":"datum.value === 'Data Fit' ? 1.8 : 1"}},
     "opacity":{"value":1},"fillOpacity":{"value":1},"strokeOpacity":{"value":1}}}}}}},
{"mark":{"type":"area","opacity":1},
 "encoding":{
  "x":{"field":"p","type":"quantitative","scale":{"domain":[0,1000],"nice":false,"zero":false},"axis":{"orient":"bottom","values":[0,100,200,300,400,500,600,700,800,900,1000],"tickSize":-7,"labels":false,"title":"P","titleX":291.5,"titleY":25,"titleAlign":"right","titleBaseline":"alphabetic","titleFontSize":13}},
  "y":{"field":"u","type":"quantitative","scale":{"domain":[0,180],"nice":false,"zero":false},"axis":{"orient":"left","values":[0,20,40,60,80,100,120,140,160,180],"tickSize":-10,"labels":false,"title":"ee","titleX":-22.5,"titleY":60,"titleAngle":270,"titleAlign":"right","titleBaseline":"alphabetic","titleFontSize":11.5}},
  "y2":{"field":"l"},
  "color":{"datum":"1σ From Theoretical Curve"}}},
{"mark":{"type":"square","size":10,"filled":true,"opacity":1},
 "encoding":{
  "x":{"field":"p","type":"quantitative","scale":{"domain":[0,1000],"nice":false,"zero":false},"axis":{"orient":"top","values":[0,20,40,60,80,100,120,140,160,180,200,220,240,260,280,300,320,340,360,380,400,420,440,460,480,500,520,540,560,580,600,620,640,660,680,700,720,740,760,780,800,820,840,860,880,900,920,940,960,980,1000],"tickSize":-3.5,"labels":false,"title":null}},
  "y":{"field":"d","type":"quantitative","scale":{"domain":[0,180],"nice":false,"zero":false},"axis":{"orient":"right","values":[0,5,10,15,20,25,30,35,40,45,50,55,60,65,70,75,80,85,90,95,100,105,110,115,120,125,130,135,140,145,150,155,160,165,170,175,180],"tickSize":-5,"labels":false,"title":null}},
  "color":{"datum":"Data"}}},
{"mark":{"type":"line","strokeWidth":1},
 "encoding":{
  "x":{"field":"p","type":"quantitative","scale":{"domain":[0,1000],"nice":false,"zero":false},"axis":{"orient":"bottom","values":[0,20,40,60,80,100,120,140,160,180,200,220,240,260,280,300,320,340,360,380,400,420,440,460,480,500,520,540,560,580,600,620,640,660,680,700,720,740,760,780,800,820,840,860,880,900,920,940,960,980,1000],"tickSize":-3.5,"labels":false,"title":"ee","titleX":301.5,"titleY":28,"titleAlign":"right","titleBaseline":"alphabetic","titleFontSize":10}},
  "y":{"field":"t","type":"quantitative","scale":{"domain":[0,180],"nice":false,"zero":false},"axis":{"orient":"left","values":[0,5,10,15,20,25,30,35,40,45,50,55,60,65,70,75,80,85,90,95,100,105,110,115,120,125,130,135,140,145,150,155,160,165,170,175,180],"tickSize":-5,"labels":false,"title":"θ","titleX":-25.5,"titleY":70.2,"titleAngle":270,"titleAlign":"right","titleBaseline":"alphabetic","titleFontSize":16}},
  "color":{"datum":"Theoretical Calculations"}}},
{"mark":{"type":"line","strokeWidth":1.8},
 "encoding":{
  "x":{"field":"p","type":"quantitative","scale":{"domain":[0,1000],"nice":false,"zero":false},"axis":{"orient":"top","values":[0,100,200,300,400,500,600,700,800,900,1000],"tickSize":-7,"labels":false,"title":null}},
  "y":{"field":"f","type":"quantitative","scale":{"domain":[0,180],"nice":false,"zero":false},"axis":{"orient":"right","values":[0,20,40,60,80,100,120,140,160,180],"tickSize":-10,"labels":false,"title":null}},
  "color":{"datum":"Data Fit"}}}
]
},
{
"width":345,"height":246,"data":{"name":"B"},
"resolve":{"axis":{"x":"independent","y":"independent"}},
"layer":[
{"mark":{"type":"area","opacity":1},
 "encoding":{
  "x":{"field":"p","type":"quantitative","scale":{"domain":[0,1000],"nice":false,"zero":false},"axis":{"orient":"bottom","format":"d","values":[0,100,200,300,400,500,600,700,800,900,1000],"ticks":false,"labelFlush":false,"labelOverlap":false,"labelPadding":0,"title":"(GeV/c)","titleX":345,"titleY":25,"titleAlign":"right","titleBaseline":"alphabetic","titleFontSize":13}},
  "y":{"field":"g","type":"quantitative","scale":{"domain":[0,180],"nice":false,"zero":false},"axis":{"orient":"left","format":"d","values":[0,20,40,60,80,100,120,140,160,180],"ticks":false,"labelFlush":false,"labelOverlap":false,"labelPadding":2.5,"title":"(degree)","titleX":-25.5,"titleY":0,"titleAngle":270,"titleAlign":"right","titleBaseline":"alphabetic","titleFontSize":16}},
  "y2":{"field":"l"},
  "color":{"datum":"1σ From Data Fit","scale":{"domain":["Data","Data Fit","Theoretical Calculations","1σ From Data Fit","1σ From Theoretical Curve"],"range":["#ff3399","#ff0000","#8a40ff","#00ff00","#ffff00"]},
   "legend":{"orient":"none","legendX":136,"legendY":17.3,"title":null,"padding":0,"rowPadding":0.3,"symbolSize":190,"labelOffset":6,"labelLimit":400,
    "encoding":{"symbols":{
     "shape":{"value":{"expr":"datum.value === 'Data' ? 'M-0.22,-0.22H0.22V0.22H-0.22Z' : ((datum.value === 'Data Fit' || datum.value === 'Theoretical Calculations') ? 'M-1.42,0H1.42' : 'M-1.45,-0.8H1.45V0.8H-1.45Z')"}},
     "size":{"value":190},
     "fill":{"value":{"expr":"datum.value === '1σ From Data Fit' ? '#00ff00' : (datum.value === '1σ From Theoretical Curve' ? '#ffff00' : (datum.value === 'Data' ? '#ff3399' : 'transparent'))"}},
     "stroke":{"value":{"expr":"datum.value === 'Data Fit' ? '#ff0000' : (datum.value === 'Theoretical Calculations' ? '#8a40ff' : (datum.value === 'Data' ? '#ff3399' : '#000000'))"}},
     "strokeWidth":{"value":{"expr":"datum.value === 'Data Fit' ? 1.8 : 1"}},
     "opacity":{"value":1},"fillOpacity":{"value":1},"strokeOpacity":{"value":1}}}}}}},
{"mark":{"type":"area","opacity":1},
 "encoding":{
  "x":{"field":"p","type":"quantitative","scale":{"domain":[0,1000],"nice":false,"zero":false},"axis":{"orient":"bottom","values":[0,100,200,300,400,500,600,700,800,900,1000],"tickSize":-7,"labels":false,"title":"P","titleX":289.3,"titleY":25,"titleAlign":"right","titleBaseline":"alphabetic","titleFontSize":13}},
  "y":{"field":"u","type":"quantitative","scale":{"domain":[0,180],"nice":false,"zero":false},"axis":{"orient":"left","values":[0,20,40,60,80,100,120,140,160,180],"tickSize":-10,"labels":false,"title":"μμ","titleX":-22.5,"titleY":60,"titleAngle":270,"titleAlign":"right","titleBaseline":"alphabetic","titleFontSize":11.5}},
  "y2":{"field":"l"},
  "color":{"datum":"1σ From Theoretical Curve"}}},
{"mark":{"type":"square","size":10,"filled":true,"opacity":1},
 "encoding":{
  "x":{"field":"p","type":"quantitative","scale":{"domain":[0,1000],"nice":false,"zero":false},"axis":{"orient":"top","values":[0,20,40,60,80,100,120,140,160,180,200,220,240,260,280,300,320,340,360,380,400,420,440,460,480,500,520,540,560,580,600,620,640,660,680,700,720,740,760,780,800,820,840,860,880,900,920,940,960,980,1000],"tickSize":-3.5,"labels":false,"title":null}},
  "y":{"field":"d","type":"quantitative","scale":{"domain":[0,180],"nice":false,"zero":false},"axis":{"orient":"right","values":[0,5,10,15,20,25,30,35,40,45,50,55,60,65,70,75,80,85,90,95,100,105,110,115,120,125,130,135,140,145,150,155,160,165,170,175,180],"tickSize":-5,"labels":false,"title":null}},
  "color":{"datum":"Data"}}},
{"mark":{"type":"line","strokeWidth":1},
 "encoding":{
  "x":{"field":"p","type":"quantitative","scale":{"domain":[0,1000],"nice":false,"zero":false},"axis":{"orient":"bottom","values":[0,20,40,60,80,100,120,140,160,180,200,220,240,260,280,300,320,340,360,380,400,420,440,460,480,500,520,540,560,580,600,620,640,660,680,700,720,740,760,780,800,820,840,860,880,900,920,940,960,980,1000],"tickSize":-3.5,"labels":false,"title":"μμ","titleX":301.5,"titleY":28,"titleAlign":"right","titleBaseline":"alphabetic","titleFontSize":10}},
  "y":{"field":"t","type":"quantitative","scale":{"domain":[0,180],"nice":false,"zero":false},"axis":{"orient":"left","values":[0,5,10,15,20,25,30,35,40,45,50,55,60,65,70,75,80,85,90,95,100,105,110,115,120,125,130,135,140,145,150,155,160,165,170,175,180],"tickSize":-5,"labels":false,"title":"θ","titleX":-25.5,"titleY":72.8,"titleAngle":270,"titleAlign":"right","titleBaseline":"alphabetic","titleFontSize":16}},
  "color":{"datum":"Theoretical Calculations"}}},
{"mark":{"type":"line","strokeWidth":1.8},
 "encoding":{
  "x":{"field":"p","type":"quantitative","scale":{"domain":[0,1000],"nice":false,"zero":false},"axis":{"orient":"top","values":[0,100,200,300,400,500,600,700,800,900,1000],"tickSize":-7,"labels":false,"title":null}},
  "y":{"field":"f","type":"quantitative","scale":{"domain":[0,180],"nice":false,"zero":false},"axis":{"orient":"right","values":[0,20,40,60,80,100,120,140,160,180],"tickSize":-10,"labels":false,"title":null}},
  "color":{"datum":"Data Fit"}}}
]
},
{
"width":345,"height":246,"data":{"name":"C"},
"resolve":{"axis":{"x":"independent","y":"independent"}},
"layer":[
{"mark":{"type":"area","opacity":1},
 "encoding":{
  "x":{"field":"p","type":"quantitative","scale":{"domain":[0,1000],"nice":false,"zero":false},"axis":{"orient":"bottom","format":"d","values":[0,100,200,300,400,500,600,700,800,900,1000],"ticks":false,"labelFlush":false,"labelOverlap":false,"labelPadding":0,"title":"(GeV/c)","titleX":345,"titleY":25,"titleAlign":"right","titleBaseline":"alphabetic","titleFontSize":13}},
  "y":{"field":"g","type":"quantitative","scale":{"domain":[0,180],"nice":false,"zero":false},"axis":{"orient":"left","format":"d","values":[0,20,40,60,80,100,120,140,160,180],"ticks":false,"labelFlush":false,"labelOverlap":false,"labelPadding":2.5,"title":"in eeγ channel (degree)","titleX":-25.5,"titleY":0,"titleAngle":270,"titleAlign":"right","titleBaseline":"alphabetic","titleFontSize":16}},
  "y2":{"field":"l"},
  "color":{"datum":"1σ From Data Fit","scale":{"domain":["Data","Data Fit","Theoretical Calculations","1σ From Data Fit","1σ From Theoretical Curve"],"range":["#ff3399","#ff0000","#8a40ff","#00ff00","#ffff00"]},
   "legend":{"orient":"none","legendX":136,"legendY":17.3,"title":null,"padding":0,"rowPadding":0.3,"symbolSize":190,"labelOffset":6,"labelLimit":400,
    "encoding":{"symbols":{
     "shape":{"value":{"expr":"datum.value === 'Data' ? 'M-0.22,-0.22H0.22V0.22H-0.22Z' : ((datum.value === 'Data Fit' || datum.value === 'Theoretical Calculations') ? 'M-1.42,0H1.42' : 'M-1.45,-0.8H1.45V0.8H-1.45Z')"}},
     "size":{"value":190},
     "fill":{"value":{"expr":"datum.value === '1σ From Data Fit' ? '#00ff00' : (datum.value === '1σ From Theoretical Curve' ? '#ffff00' : (datum.value === 'Data' ? '#ff3399' : 'transparent'))"}},
     "stroke":{"value":{"expr":"datum.value === 'Data Fit' ? '#ff0000' : (datum.value === 'Theoretical Calculations' ? '#8a40ff' : (datum.value === 'Data' ? '#ff3399' : '#000000'))"}},
     "strokeWidth":{"value":{"expr":"datum.value === 'Data Fit' ? 1.8 : 1"}},
     "opacity":{"value":1},"fillOpacity":{"value":1},"strokeOpacity":{"value":1}}}}}}},
{"mark":{"type":"area","opacity":1},
 "encoding":{
  "x":{"field":"p","type":"quantitative","scale":{"domain":[0,1000],"nice":false,"zero":false},"axis":{"orient":"bottom","values":[0,100,200,300,400,500,600,700,800,900,1000],"tickSize":-7,"labels":false,"title":"P","titleX":286.5,"titleY":25,"titleAlign":"right","titleBaseline":"alphabetic","titleFontSize":13}},
  "y":{"field":"u","type":"quantitative","scale":{"domain":[0,180],"nice":false,"zero":false},"axis":{"orient":"left","values":[0,20,40,60,80,100,120,140,160,180],"tickSize":-10,"labels":false,"title":"Zγ","titleFontStyle":"italic","titleX":-22.5,"titleY":160.9,"titleAngle":270,"titleAlign":"right","titleBaseline":"alphabetic","titleFontSize":11.5}},
  "y2":{"field":"l"},
  "color":{"datum":"1σ From Theoretical Curve"}}},
{"mark":{"type":"errorbar","ticks":false,"color":"#ff3399","thickness":1},
 "encoding":{
  "x":{"field":"p","type":"quantitative","scale":{"domain":[0,1000],"nice":false,"zero":false},"axis":null},
  "y":{"field":"d","type":"quantitative","scale":{"domain":[0,180],"nice":false,"zero":false},"axis":null},
  "yError":{"field":"e"}}},
{"mark":{"type":"square","size":10,"filled":true,"opacity":1},
 "encoding":{
  "x":{"field":"p","type":"quantitative","scale":{"domain":[0,1000],"nice":false,"zero":false},"axis":{"orient":"top","values":[0,20,40,60,80,100,120,140,160,180,200,220,240,260,280,300,320,340,360,380,400,420,440,460,480,500,520,540,560,580,600,620,640,660,680,700,720,740,760,780,800,820,840,860,880,900,920,940,960,980,1000],"tickSize":-3.5,"labels":false,"title":null}},
  "y":{"field":"d","type":"quantitative","scale":{"domain":[0,180],"nice":false,"zero":false},"axis":{"orient":"right","values":[0,5,10,15,20,25,30,35,40,45,50,55,60,65,70,75,80,85,90,95,100,105,110,115,120,125,130,135,140,145,150,155,160,165,170,175,180],"tickSize":-5,"labels":false,"title":null}},
  "color":{"datum":"Data"}}},
{"mark":{"type":"line","strokeWidth":1},
 "encoding":{
  "x":{"field":"p","type":"quantitative","scale":{"domain":[0,1000],"nice":false,"zero":false},"axis":{"orient":"bottom","values":[0,20,40,60,80,100,120,140,160,180,200,220,240,260,280,300,320,340,360,380,400,420,440,460,480,500,520,540,560,580,600,620,640,660,680,700,720,740,760,780,800,820,840,860,880,900,920,940,960,980,1000],"tickSize":-3.5,"labels":false,"title":"eeγ","titleX":301.5,"titleY":28,"titleAlign":"right","titleBaseline":"alphabetic","titleFontSize":10}},
  "y":{"field":"t","type":"quantitative","scale":{"domain":[0,180],"nice":false,"zero":false},"axis":{"orient":"left","values":[0,5,10,15,20,25,30,35,40,45,50,55,60,65,70,75,80,85,90,95,100,105,110,115,120,125,130,135,140,145,150,155,160,165,170,175,180],"tickSize":-5,"labels":false,"title":"θ","titleX":-25.5,"titleY":173.7,"titleAngle":270,"titleAlign":"right","titleBaseline":"alphabetic","titleFontSize":16}},
  "color":{"datum":"Theoretical Calculations"}}},
{"mark":{"type":"line","strokeWidth":1.8},
 "encoding":{
  "x":{"field":"p","type":"quantitative","scale":{"domain":[0,1000],"nice":false,"zero":false},"axis":{"orient":"top","values":[0,100,200,300,400,500,600,700,800,900,1000],"tickSize":-7,"labels":false,"title":null}},
  "y":{"field":"f","type":"quantitative","scale":{"domain":[0,180],"nice":false,"zero":false},"axis":{"orient":"right","values":[0,20,40,60,80,100,120,140,160,180],"tickSize":-10,"labels":false,"title":null}},
  "color":{"datum":"Data Fit"}}}
]
},
{
"width":345,"height":246,"data":{"name":"D"},
"resolve":{"axis":{"x":"independent","y":"independent"}},
"layer":[
{"mark":{"type":"area","opacity":1},
 "encoding":{
  "x":{"field":"p","type":"quantitative","scale":{"domain":[0,1000],"nice":false,"zero":false},"axis":{"orient":"bottom","format":"d","values":[0,100,200,300,400,500,600,700,800,900,1000],"ticks":false,"labelFlush":false,"labelOverlap":false,"labelPadding":0,"title":"(GeV/c)","titleX":345,"titleY":25,"titleAlign":"right","titleBaseline":"alphabetic","titleFontSize":13}},
  "y":{"field":"g","type":"quantitative","scale":{"domain":[0,180],"nice":false,"zero":false},"axis":{"orient":"left","format":"d","values":[0,20,40,60,80,100,120,140,160,180],"ticks":false,"labelFlush":false,"labelOverlap":false,"labelPadding":2.5,"title":"in  μμγ channel (degree)","titleX":-25.5,"titleY":0,"titleAngle":270,"titleAlign":"right","titleBaseline":"alphabetic","titleFontSize":16}},
  "y2":{"field":"l"},
  "color":{"datum":"1σ From Data Fit","scale":{"domain":["Data","Data Fit","Theoretical Calculations","1σ From Data Fit","1σ From Theoretical Curve"],"range":["#ff3399","#ff0000","#8a40ff","#00ff00","#ffff00"]},
   "legend":{"orient":"none","legendX":136,"legendY":17.3,"title":null,"padding":0,"rowPadding":0.3,"symbolSize":190,"labelOffset":6,"labelLimit":400,
    "encoding":{"symbols":{
     "shape":{"value":{"expr":"datum.value === 'Data' ? 'M-0.22,-0.22H0.22V0.22H-0.22Z' : ((datum.value === 'Data Fit' || datum.value === 'Theoretical Calculations') ? 'M-1.42,0H1.42' : 'M-1.45,-0.8H1.45V0.8H-1.45Z')"}},
     "size":{"value":190},
     "fill":{"value":{"expr":"datum.value === '1σ From Data Fit' ? '#00ff00' : (datum.value === '1σ From Theoretical Curve' ? '#ffff00' : (datum.value === 'Data' ? '#ff3399' : 'transparent'))"}},
     "stroke":{"value":{"expr":"datum.value === 'Data Fit' ? '#ff0000' : (datum.value === 'Theoretical Calculations' ? '#8a40ff' : (datum.value === 'Data' ? '#ff3399' : '#000000'))"}},
     "strokeWidth":{"value":{"expr":"datum.value === 'Data Fit' ? 1.8 : 1"}},
     "opacity":{"value":1},"fillOpacity":{"value":1},"strokeOpacity":{"value":1}}}}}}},
{"mark":{"type":"area","opacity":1},
 "encoding":{
  "x":{"field":"p","type":"quantitative","scale":{"domain":[0,1000],"nice":false,"zero":false},"axis":{"orient":"bottom","values":[0,100,200,300,400,500,600,700,800,900,1000],"tickSize":-7,"labels":false,"title":"P","titleX":284.5,"titleY":25,"titleAlign":"right","titleBaseline":"alphabetic","titleFontSize":13}},
  "y":{"field":"u","type":"quantitative","scale":{"domain":[0,180],"nice":false,"zero":false},"axis":{"orient":"left","values":[0,20,40,60,80,100,120,140,160,180],"tickSize":-10,"labels":false,"title":"Zγ","titleFontStyle":"italic","titleX":-22.5,"titleY":168.4,"titleAngle":270,"titleAlign":"right","titleBaseline":"alphabetic","titleFontSize":11.5}},
  "y2":{"field":"l"},
  "color":{"datum":"1σ From Theoretical Curve"}}},
{"mark":{"type":"errorbar","ticks":false,"color":"#ff3399","thickness":1},
 "encoding":{
  "x":{"field":"p","type":"quantitative","scale":{"domain":[0,1000],"nice":false,"zero":false},"axis":null},
  "y":{"field":"d","type":"quantitative","scale":{"domain":[0,180],"nice":false,"zero":false},"axis":null},
  "yError":{"field":"e"}}},
{"mark":{"type":"square","size":10,"filled":true,"opacity":1},
 "encoding":{
  "x":{"field":"p","type":"quantitative","scale":{"domain":[0,1000],"nice":false,"zero":false},"axis":{"orient":"top","values":[0,20,40,60,80,100,120,140,160,180,200,220,240,260,280,300,320,340,360,380,400,420,440,460,480,500,520,540,560,580,600,620,640,660,680,700,720,740,760,780,800,820,840,860,880,900,920,940,960,980,1000],"tickSize":-3.5,"labels":false,"title":null}},
  "y":{"field":"d","type":"quantitative","scale":{"domain":[0,180],"nice":false,"zero":false},"axis":{"orient":"right","values":[0,5,10,15,20,25,30,35,40,45,50,55,60,65,70,75,80,85,90,95,100,105,110,115,120,125,130,135,140,145,150,155,160,165,170,175,180],"tickSize":-5,"labels":false,"title":null}},
  "color":{"datum":"Data"}}},
{"mark":{"type":"line","strokeWidth":1},
 "encoding":{
  "x":{"field":"p","type":"quantitative","scale":{"domain":[0,1000],"nice":false,"zero":false},"axis":{"orient":"bottom","values":[0,20,40,60,80,100,120,140,160,180,200,220,240,260,280,300,320,340,360,380,400,420,440,460,480,500,520,540,560,580,600,620,640,660,680,700,720,740,760,780,800,820,840,860,880,900,920,940,960,980,1000],"tickSize":-3.5,"labels":false,"title":"μμγ","titleX":301.5,"titleY":28,"titleAlign":"right","titleBaseline":"alphabetic","titleFontSize":10}},
  "y":{"field":"t","type":"quantitative","scale":{"domain":[0,180],"nice":false,"zero":false},"axis":{"orient":"left","values":[0,5,10,15,20,25,30,35,40,45,50,55,60,65,70,75,80,85,90,95,100,105,110,115,120,125,130,135,140,145,150,155,160,165,170,175,180],"tickSize":-5,"labels":false,"title":"θ","titleX":-25.5,"titleY":181.2,"titleAngle":270,"titleAlign":"right","titleBaseline":"alphabetic","titleFontSize":16}},
  "color":{"datum":"Theoretical Calculations"}}},
{"mark":{"type":"line","strokeWidth":1.8},
 "encoding":{
  "x":{"field":"p","type":"quantitative","scale":{"domain":[0,1000],"nice":false,"zero":false},"axis":{"orient":"top","values":[0,100,200,300,400,500,600,700,800,900,1000],"tickSize":-7,"labels":false,"title":null}},
  "y":{"field":"f","type":"quantitative","scale":{"domain":[0,180],"nice":false,"zero":false},"axis":{"orient":"right","values":[0,20,40,60,80,100,120,140,160,180],"tickSize":-10,"labels":false,"title":null}},
  "color":{"datum":"Data Fit"}}}
]
}
]
}
